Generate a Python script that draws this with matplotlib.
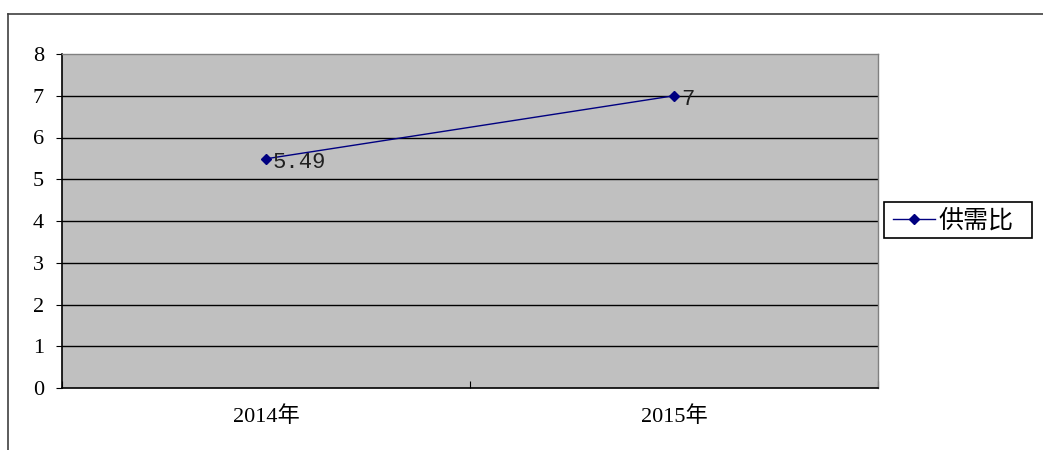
import matplotlib
matplotlib.use("Agg")
import matplotlib.pyplot as plt
from matplotlib.lines import Line2D
from matplotlib.patches import Rectangle

categories = ["2014年", "2015年"]
series_name = "供需比"
values = [5.49, 7]
value_labels = ["5.49", "7"]
y_ticks = [0, 1, 2, 3, 4, 5, 6, 7, 8]

FONT = ["Liberation Serif", "Noto Sans CJK SC", "DejaVu Sans"]
MONO = ["Liberation Mono", "DejaVu Sans Mono"]
CJK = ["Noto Sans CJK SC", "DejaVu Sans"]

W, H = 1043, 450
fig = plt.figure(figsize=(W / 100, H / 100), dpi=100)
fig.patch.set_facecolor("white")

# outer chart border (partially cropped)
fig.add_artist(Line2D([8 / W, 8 / W], [0, 1 - 14 / H], transform=fig.transFigure,
                      color="#404040", lw=1.2))
fig.add_artist(Line2D([8 / W, 1], [1 - 14 / H, 1 - 14 / H], transform=fig.transFigure,
                      color="#404040", lw=1.2))

left, right, top, bottom = 62, 878, 54, 388
ax = fig.add_axes([left / W, 1 - bottom / H, (right - left) / W, (bottom - top) / H])
ax.set_facecolor("#C0C0C0")

x = list(range(len(categories)))
ax.plot(x, values, color="#000080", lw=1, marker="D", markersize=5,
        markerfacecolor="#000080", markeredgecolor="#000080", label=series_name, zorder=3)

for xi, v, lab in zip(x, values, value_labels):
    ax.annotate(lab, (xi, v), xytext=(5, -2.5), textcoords="offset points",
                ha="left", va="center", fontsize=16, family=MONO, color="#202020", zorder=4)

ax.set_xlim(-0.5, len(categories) - 0.5)
ax.set_ylim(min(y_ticks), max(y_ticks))
ax.set_yticks(y_ticks)
ax.set_yticklabels([str(t) for t in y_ticks], family=FONT, fontsize=16)
for t in y_ticks[1:-1]:
    ax.axhline(t, color="black", lw=1, zorder=1)

# category boundaries as major ticks, labels at centers as minor ticks
ax.set_xticks([i - 0.5 for i in range(len(categories) + 1)])
ax.set_xticklabels([])
ax.set_xticks(x, minor=True)
ax.set_xticklabels(categories, minor=True, family=FONT, fontsize=16)
ax.tick_params(axis="x", which="major", direction="in", length=5, color="black")
ax.tick_params(axis="x", which="minor", length=0, pad=13)
ax.tick_params(axis="y", direction="out", length=4, pad=9, color="black")

for s in ["left", "bottom"]:
    ax.spines[s].set_color("black")
    ax.spines[s].set_linewidth(1.2)
for s in ["top", "right"]:
    ax.spines[s].set_color("#808080")
    ax.spines[s].set_linewidth(1)

# legend box drawn as a figure rectangle, legend itself frameless inside it
fig.add_artist(Rectangle((884 / W, 1 - 238 / H), (1032 - 884) / W, 36 / H,
                         transform=fig.transFigure, facecolor="white",
                         edgecolor="black", lw=1.2, zorder=1))
leg = fig.legend(loc="center left", bbox_to_anchor=(893 / W, 1 - 221 / H),
                 prop={"family": CJK, "size": 18}, frameon=False,
                 handlelength=1.68, borderpad=0, handletextpad=0.15,
                 borderaxespad=0)
leg.set_zorder(2)

fig.savefig("out.png", dpi=100)
